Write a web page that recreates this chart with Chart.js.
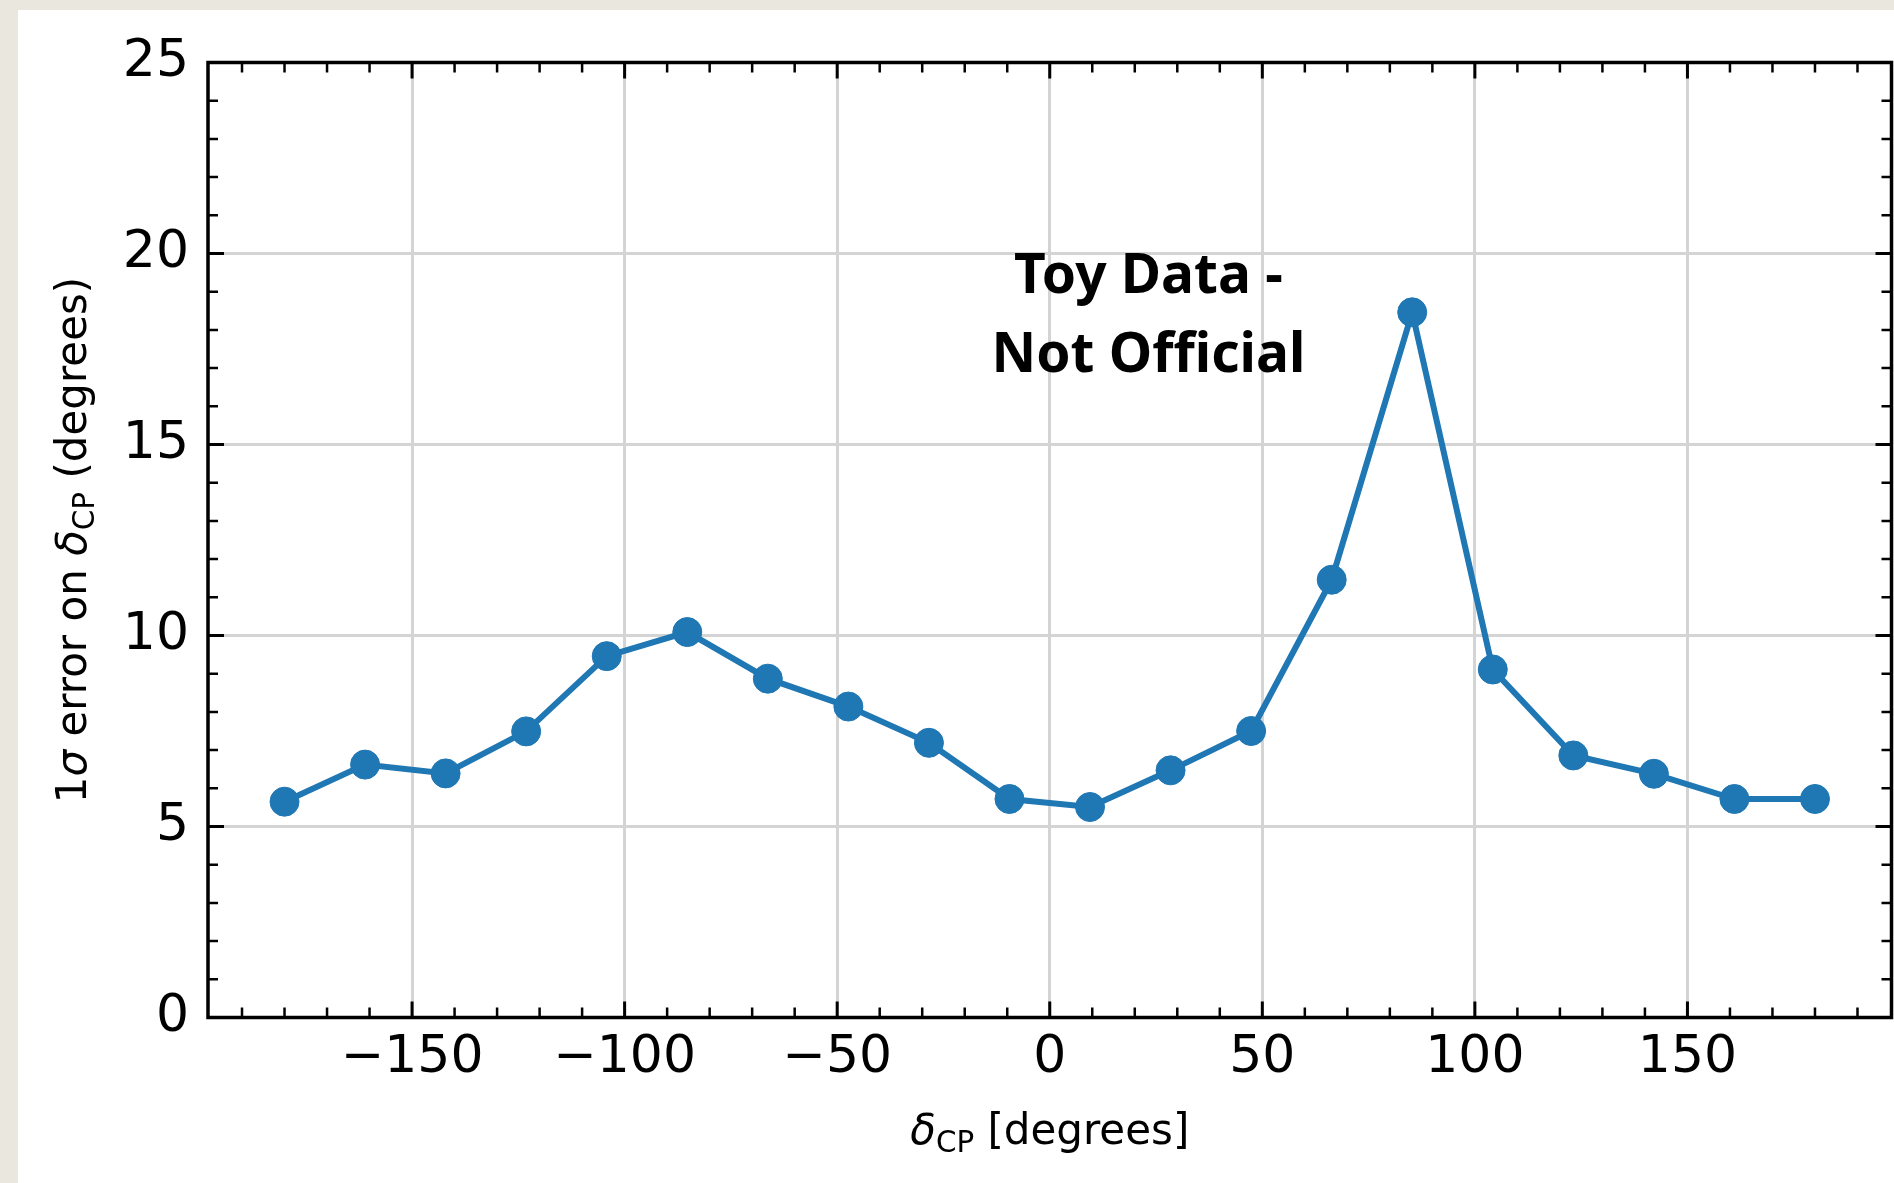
<!DOCTYPE html>
<html lang="en">
  <head>
    <meta charset="utf-8" />
    <title>delta_CP resolution</title>
    <style>
      html,
      body {
        margin: 0;
        padding: 0;
        overflow: hidden;
        background: #eae7de;
      }
      #wrap {
        position: relative;
        width: 1894px;
        height: 1183px;
      }
      #canvas {
        display: block;
      }
    </style>
  </head>
  <body>
    <div id="wrap">
      <canvas id="canvas"></canvas>
    </div>

    <script src="https://cdn.jsdelivr.net/npm/chart.js"></script>

    <script>
      // true delta_CP values (degrees) and the 1 sigma error found at each
      const deltaCP = [
        -180, -161.05, -142.11, -123.16, -104.21, -85.26, -66.32, -47.37, -28.42, -9.47,
        9.47, 28.42, 47.37, 66.32, 85.26, 104.21, 123.16, 142.11, 161.05, 180,
      ];
      const sigmaErr = [
        5.65, 6.62, 6.39, 7.49, 9.46, 10.09, 8.87, 8.14, 7.19, 5.72,
        5.51, 6.47, 7.5, 11.46, 18.46, 9.11, 6.86, 6.38, 5.72, 5.72,
      ];

      const xTickValues = [-150, -100, -50, 0, 50, 100, 150];
      const xTickLabels = ["\u2212150", "\u2212100", "\u221250", "0", "50", "100", "150"];
      const yTickValues = [0, 5, 10, 15, 20, 25];
      const yTickLabels = ["0", "5", "10", "15", "20", "25"];

      // axis titles as [text, style] runs so the CP subscript can be drawn
      const xTitle = [
        ["\u03b4", "italic"],
        ["CP", "sub"],
        [" [degrees]", "normal"],
      ];
      const yTitle = [
        ["1", "normal"],
        ["\u03c3", "italic"],
        [" error on ", "normal"],
        ["\u03b4", "italic"],
        ["CP", "sub"],
        [" (degrees)", "normal"],
      ];
      const noteLines = ["Toy Data -", "Not Official"];

      const BLUE = "#1f77b4";
      const FONT = "'DejaVu Sans'";

      function runFont(style, size) {
        if (style === "italic") return `italic ${size}px ${FONT}`;
        if (style === "sub") return `${size * 0.7}px ${FONT}`;
        return `${size}px ${FONT}`;
      }

      function drawRuns(ctx, runs, size, subDrop) {
        let total = 0;
        runs.forEach(([t, s]) => {
          ctx.font = runFont(s, size);
          total += ctx.measureText(t).width;
        });
        let x = -total / 2;
        ctx.textAlign = "left";
        ctx.textBaseline = "alphabetic";
        runs.forEach(([t, s]) => {
          ctx.font = runFont(s, size);
          ctx.fillText(t, x, s === "sub" ? subDrop : 0);
          x += ctx.measureText(t).width;
        });
      }

      // page card behind the plot
      const paper = {
        id: "paper",
        beforeDraw(chart) {
          const ctx = chart.ctx;
          ctx.save();
          ctx.fillStyle = "#eae7de";
          ctx.fillRect(0, 0, chart.width, chart.height);
          ctx.fillStyle = "#ffffff";
          ctx.fillRect(18, 10, chart.width - 18, chart.height - 10);
          ctx.restore();
        },
      };

      // boxed frame with inward major/minor ticks on all four sides
      const frame = {
        id: "frame",
        afterDatasetsDraw(chart) {
          const ctx = chart.ctx;
          const { left, right, top, bottom } = chart.chartArea;
          const xs = chart.scales.x;
          const ys = chart.scales.y;
          ctx.save();
          ctx.strokeStyle = "#000";
          for (let v = -190; v <= 190; v += 10) {
            const px = xs.getPixelForValue(v);
            const major = v % 50 === 0;
            const len = major ? 16 : 10;
            ctx.lineWidth = major ? 3 : 2.5;
            ctx.beginPath();
            ctx.moveTo(px, bottom);
            ctx.lineTo(px, bottom - len);
            ctx.moveTo(px, top);
            ctx.lineTo(px, top + len);
            ctx.stroke();
          }
          for (let v = 1; v < 25; v++) {
            const py = ys.getPixelForValue(v);
            const major = v % 5 === 0;
            const len = major ? 16 : 10;
            ctx.lineWidth = major ? 3 : 2.5;
            ctx.beginPath();
            ctx.moveTo(left, py);
            ctx.lineTo(left + len, py);
            ctx.moveTo(right, py);
            ctx.lineTo(right - len, py);
            ctx.stroke();
          }
          ctx.lineWidth = 3.5;
          ctx.strokeRect(left, top, right - left, bottom - top);
          ctx.restore();
        },
      };

      const titles = {
        id: "titles",
        afterDraw(chart) {
          const ctx = chart.ctx;
          const { left, right, top, bottom } = chart.chartArea;
          ctx.save();
          ctx.fillStyle = "#000";
          ctx.translate((left + right) / 2, 1144);
          drawRuns(ctx, xTitle, 42, 8);
          ctx.restore();

          ctx.save();
          ctx.fillStyle = "#000";
          ctx.translate(86, (top + bottom) / 2);
          ctx.rotate(-Math.PI / 2);
          drawRuns(ctx, yTitle, 42, 8);
          ctx.restore();
        },
      };

      const note = {
        id: "note",
        afterDraw(chart, args, opts) {
          const ctx = chart.ctx;
          ctx.save();
          ctx.font = `bold ${opts.size}px 'Noto Sans'`;
          ctx.textAlign = "center";
          ctx.textBaseline = "alphabetic";
          ctx.fillStyle = "#000";
          const x = chart.scales.x.getPixelForValue(opts.x);
          noteLines.forEach((line, i) => {
            ctx.fillText(line, x, chart.scales.y.getPixelForValue(opts.y[i]));
          });
          ctx.restore();
        },
      };

      const ctx = document.getElementById("canvas");

      new Chart(ctx, {
        type: "line",
        data: {
          datasets: [
            {
              data: deltaCP.map((d, i) => ({ x: d, y: sigmaErr[i] })),
              borderColor: BLUE,
              backgroundColor: BLUE,
              borderWidth: 6,
              pointRadius: 14.5,
              pointBorderWidth: 1,
              pointBackgroundColor: BLUE,
              pointBorderColor: BLUE,
              tension: 0,
            },
          ],
        },
        options: {
          responsive: true,
          maintainAspectRatio: false,
          animation: false,
          layout: {
            autoPadding: false,
            padding: { left: 0, top: 62.5, right: 2.5, bottom: 0 },
          },
          plugins: {
            legend: { display: false },
            tooltip: { enabled: false },
            note: { x: 23.2, y: [18.97, 16.9], size: 55 },
          },
          scales: {
            x: {
              type: "linear",
              min: -198,
              max: 198,
              afterBuildTicks: (scale) => {
                scale.ticks = xTickValues.map((v) => ({ value: v }));
              },
              afterFit: (scale) => {
                scale.height = 165.5;
              },
              ticks: {
                callback: (v, i) => xTickLabels[i],
                font: { family: "DejaVu Sans", size: 52 },
                color: "#000",
                padding: 10,
                maxRotation: 0,
                autoSkip: false,
              },
              grid: { color: "#d4d4d4", lineWidth: 3, drawTicks: false },
              border: { display: false },
            },
            y: {
              type: "linear",
              min: 0,
              max: 25,
              afterBuildTicks: (scale) => {
                scale.ticks = yTickValues.map((v) => ({ value: v }));
              },
              afterFit: (scale) => {
                scale.width = 208;
              },
              ticks: {
                callback: (v, i) => yTickLabels[i],
                font: { family: "DejaVu Sans", size: 52 },
                color: "#000",
                padding: 19,
                autoSkip: false,
              },
              grid: { color: "#d4d4d4", lineWidth: 3, drawTicks: false },
              border: { display: false },
            },
          },
        },
        plugins: [paper, frame, titles, note],
      });
    </script>
  </body>
</html>
